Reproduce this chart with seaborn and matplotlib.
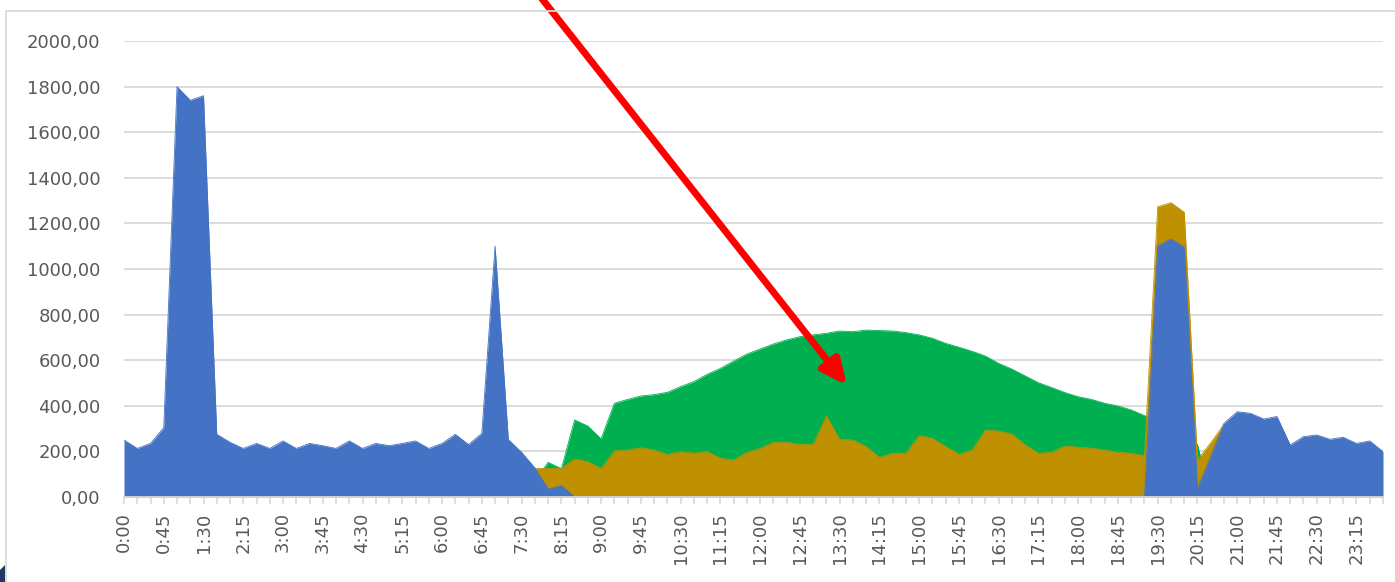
import numpy as np
import pandas as pd
import matplotlib
matplotlib.use("Agg")
import matplotlib.pyplot as plt
import seaborn as sns
from matplotlib.lines import Line2D
from matplotlib.patches import Polygon

# 15-minute slots over one day
times = [f"{m // 60}:{m % 60:02d}" for m in range(0, 24 * 60, 15)]

# Power drawn from the grid (W)
grid_power = [
    250, 213, 235, 304, 1800, 1740, 1760, 275, 240, 213,
    235, 213, 246, 213, 235, 225, 213, 246, 213, 235,
    225, 235, 246, 213, 235, 275, 230, 279, 1100, 252,
    196, 128, 35, 50, 0, 0, 0, 0, 0, 0,
    0, 0, 0, 0, 0, 0, 0, 0, 0, 0,
    0, 0, 0, 0, 0, 0, 0, 0, 0, 0,
    0, 0, 0, 0, 0, 0, 0, 0, 0, 0,
    0, 0, 0, 0, 0, 0, 0, 0, 1101, 1132,
    1095, 38, 177, 323, 374, 367, 342, 353, 228, 265,
    272, 253, 262, 235, 246, 199,
]

# Consumption covered by own production (W)
self_consumption = [
    0, 0, 0, 0, 0, 0, 0, 0, 0, 0,
    0, 0, 0, 0, 0, 0, 0, 0, 0, 0,
    0, 0, 0, 0, 0, 0, 0, 0, 0, 0,
    0, 126, 125, 126, 167, 155, 125, 202, 206, 216,
    206, 187, 199, 192, 199, 170, 162, 196, 213, 240,
    240, 231, 231, 355, 253, 250, 221, 174, 192, 192,
    269, 257, 221, 187, 206, 294, 289, 276, 228, 192,
    196, 224, 218, 214, 206, 196, 192, 181, 1273, 1291,
    1249, 162, 238, 318, 0, 0, 0, 0, 0, 0,
    0, 0, 0, 0, 0, 0,
]

# Solar production (W)
solar_power = [
    0, 0, 0, 0, 0, 0, 0, 0, 0, 0,
    0, 0, 0, 0, 0, 0, 0, 0, 0, 0,
    0, 0, 0, 0, 0, 0, 0, 0, 0, 0,
    0, 70, 152, 124, 338, 311, 255, 411, 428, 443,
    449, 459, 484, 506, 538, 564, 596, 627, 649, 671,
    689, 703, 711, 718, 728, 725, 732, 730, 728, 721,
    711, 696, 674, 657, 639, 618, 586, 561, 531, 501,
    480, 458, 440, 428, 411, 399, 382, 357, 335, 310,
    285, 230, 0, 0, 0, 0, 0, 0, 0, 0,
    0, 0, 0, 0, 0, 0,
]

y_ticks = [0, 200, 400, 600, 800, 1000, 1200, 1400, 1600, 1800, 2000]

BLUE = "#4472C4"
GOLD = "#BF9000"
GREEN = "#00B050"
GRID = "#D9D9D9"
TEXT = "#595959"

df = pd.DataFrame({
    "slot": np.arange(len(times)),
    "time": times,
    "grid": grid_power,
    "self": self_consumption,
    "solar": solar_power,
})

sns.set_theme(style="white")
plt.rcParams["font.family"] = ["DejaVu Sans"]

W, H = 1395, 582
fig = plt.figure(figsize=(W / 100, H / 100), dpi=100)
fig.patch.set_facecolor("white")
ax = fig.add_axes([124 / W, 1 - 497 / H, (1383 - 124) / W, (497 - 41) / H])

# Overlapping areas: solar behind, own use in the middle, grid in front
for col, color, z in [("solar", GREEN, 2), ("self", GOLD, 3), ("grid", BLUE, 4)]:
    ax.fill_between(df["slot"], 0, df[col], color=color, lw=0, zorder=z)
    sns.lineplot(data=df, x="slot", y=col, color=color, lw=0.6,
                 estimator=None, sort=False, ax=ax, zorder=z)

ax.set_xlim(0, len(times) - 1)
ax.set_ylim(0, 2000)
ax.set_xlabel("")
ax.set_ylabel("")

ax.set_xticks(df["slot"])
ax.set_xticklabels([t if i % 3 == 0 else "" for i, t in enumerate(times)],
                   rotation=90)
ax.set_yticks(y_ticks)
ax.set_yticklabels([f"{v:.2f}".replace(".", ",") for v in y_ticks])

ax.tick_params(axis="x", bottom=True, length=5, width=1.2, color=GRID,
               pad=6, labelsize=13, labelcolor=TEXT)
ax.tick_params(axis="y", left=False, length=0, pad=17, labelsize=13,
               labelcolor=TEXT)

ax.yaxis.grid(True, color=GRID, lw=1.3)
ax.xaxis.grid(False)
ax.set_axisbelow(True)
for side in ["top", "right", "left"]:
    ax.spines[side].set_visible(False)
ax.spines["bottom"].set_color(GRID)
ax.spines["bottom"].set_linewidth(1.3)
ax.spines["bottom"].set_zorder(10)

# Red pointer arrow into the solar area
ax.annotate("", xy=(54.55, 490), xycoords="data",
            xytext=(539, H + 5), textcoords="figure pixels",
            arrowprops=dict(arrowstyle="-|>,head_length=0.75,head_width=0.35",
                            mutation_scale=20, color="#FF0000", lw=5,
                            shrinkA=0, shrinkB=0),
            annotation_clip=False, zorder=20)

# Chart frame
fig.add_artist(Line2D([6 / W, 6 / W], [0, 1 - 11 / H], transform=fig.transFigure,
                      color=GRID, lw=1.3))
fig.add_artist(Line2D([6 / W, 1], [1 - 11 / H, 1 - 11 / H], transform=fig.transFigure,
                      color=GRID, lw=1.3))
fig.add_artist(Polygon([[0, 0], [0, 12 / H], [5 / W, 17 / H], [5 / W, 0]],
                       closed=True, transform=fig.transFigure,
                       facecolor="#1F3864", edgecolor="none"))

fig.savefig("out.png", dpi=100)
